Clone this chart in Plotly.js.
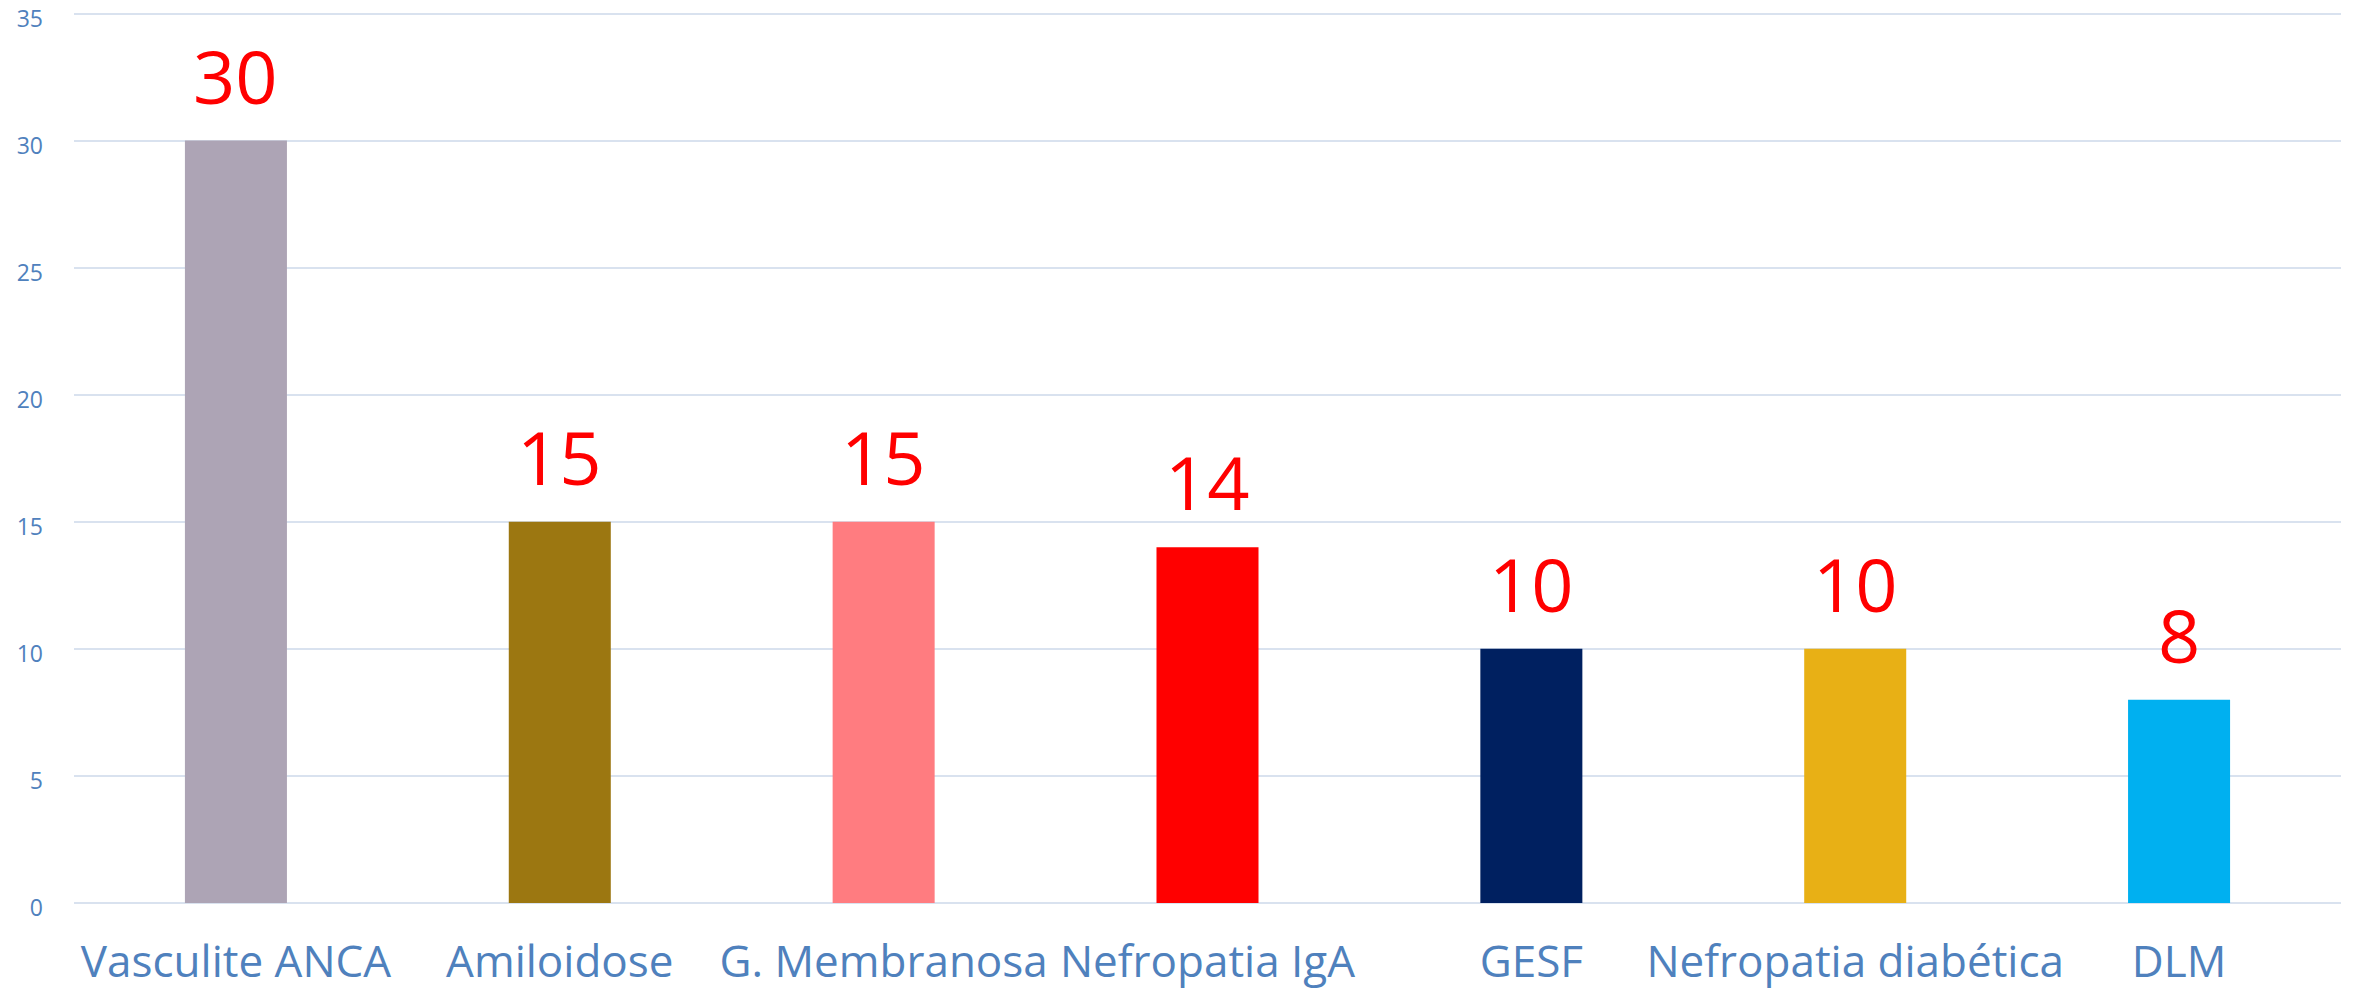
<!DOCTYPE html>
<html>
<head>
<meta charset="utf-8">
<script src="https://cdn.plot.ly/plotly-3.0.1.min.js"></script>
<style>
html,body{margin:0;padding:0;background:#fff;}
#chart{width:2353px;height:990px;}
</style>
</head>
<body>
<div id="chart"></div>
<script>
const categories = ["Vasculite ANCA", "Amiloidose", "G. Membranosa", "Nefropatia IgA", "GESF", "Nefropatia diabética", "DLM"];
const values = [30, 15, 15, 14, 10, 10, 8];
const barColors = ["#ADA4B5", "#9C7711", "#FF7C80", "#FF0000", "#002060", "#E8B015", "#00B0F0"];
const yTicks = [0, 5, 10, 15, 20, 25, 30, 35];

const FONT = "'Open Sans', 'DejaVu Sans', sans-serif";
const AXIS_COLOR = "#4F81BD";

const trace = {
  type: "bar",
  x: categories,
  y: values,
  marker: { color: barColors, line: { width: 0 } },
  hoverinfo: "x+y"
};

const annotations = categories.map((c, i) => ({
  x: c,
  y: values[i],
  xref: "x",
  yref: "y",
  text: String(values[i]),
  showarrow: false,
  yanchor: "bottom",
  yshift: 13,
  font: { family: FONT, size: 74, color: "#FF0000" }
}));

const layout = {
  width: 2353,
  height: 990,
  margin: { l: 74, r: 12, t: 10, b: 87 },
  paper_bgcolor: "#ffffff",
  plot_bgcolor: "#ffffff",
  showlegend: false,
  bargap: 0.685,
  xaxis: {
    type: "category",
    tickfont: { family: FONT, size: 44, color: AXIS_COLOR },
    showgrid: false,
    zeroline: false,
    showline: false,
    ticks: "",
    ticklabelstandoff: 29,
    ticklabeloverflow: "allow",
    fixedrange: true
  },
  yaxis: {
    range: [0, 35.14],
    tickvals: yTicks,
    ticktext: yTicks.map(String),
    tickfont: { family: FONT, size: 23, color: AXIS_COLOR },
    showgrid: true,
    gridcolor: "#D9E2EF",
    gridwidth: 2,
    zeroline: true,
    zerolinecolor: "#D9E2EF",
    zerolinewidth: 2,
    showline: false,
    ticks: "",
    ticklabelstandoff: 30,
    ticklabelshift: 5,
    ticklabeloverflow: "allow",
    fixedrange: true
  },
  annotations: annotations
};

Plotly.newPlot("chart", [trace], layout, { displayModeBar: false, staticPlot: true });
</script>
</body>
</html>
